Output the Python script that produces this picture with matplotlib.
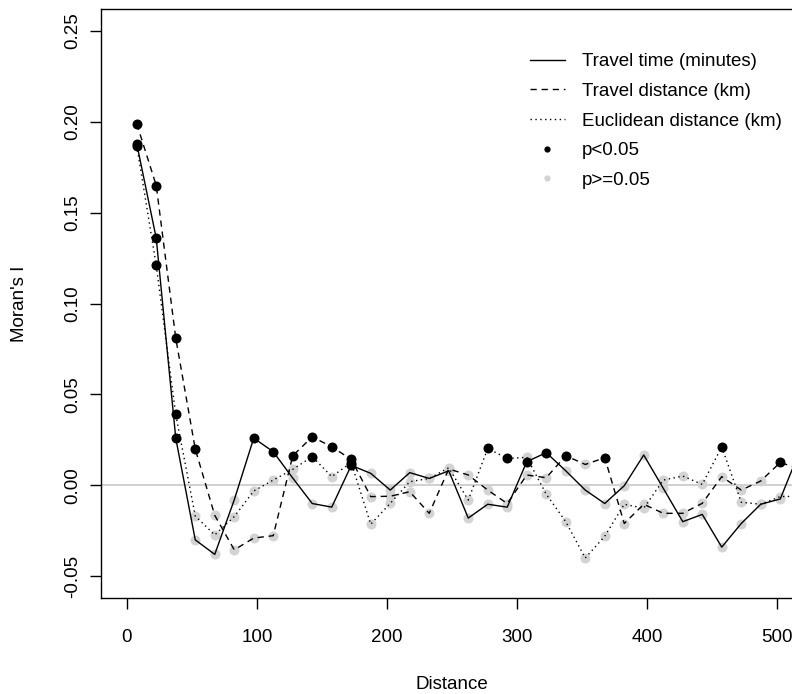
import numpy as np
import matplotlib
matplotlib.use("Agg")
import matplotlib.pyplot as plt
from matplotlib.lines import Line2D

plt.rcParams["font.family"] = ["Liberation Sans", "DejaVu Sans"]
plt.rcParams["axes.unicode_minus"] = False

# lag midpoints (distance classes of width 15)
dist = [7.5, 22.5, 37.5, 52.5, 67.5, 82.5, 97.5, 112.5, 127.5, 142.5,
        157.5, 172.5, 187.5, 202.5, 217.5, 232.5, 247.5, 262.5, 277.5, 292.5,
        307.5, 322.5, 337.5, 352.5, 367.5, 382.5, 397.5, 412.5, 427.5, 442.5,
        457.5, 472.5, 487.5, 502.5, 517.5]

time_i = [0.188, 0.136, 0.026, -0.030, -0.038, -0.008, 0.026, 0.0185, 0.004, -0.010,
          -0.012, 0.011, 0.0066, -0.0026, 0.007, 0.0038, 0.008, -0.018, -0.0104, -0.012,
          0.013, 0.018, 0.008, -0.0026, -0.010, -0.0002, 0.0167, -0.0016, -0.020, -0.016,
          -0.034, -0.021, -0.0104, -0.0075, 0.019]
time_sig = [1, 1, 1, 0, 0, 0, 1, 1, 0, 0,
            0, 1, 0, 0, 0, 0, 0, 0, 0, 0,
            1, 1, 0, 0, 0, 0, 0, 0, 0, 0,
            0, 0, 0, 0, 0]

road_i = [0.199, 0.165, 0.081, 0.020, -0.0165, -0.0355, -0.029, -0.0277, 0.0163, 0.0267,
          0.0212, 0.0143, -0.0062, -0.006, -0.0035, -0.0154, 0.009, 0.0057, -0.0026, -0.010,
          0.0057, 0.0042, 0.0163, 0.0115, 0.0152, -0.021, -0.0104, -0.0154, -0.0154, -0.0099,
          0.0048, -0.0026, 0.0024, 0.0126, 0.009]
road_sig = [1, 1, 1, 1, 0, 0, 0, 0, 1, 1,
            1, 1, 0, 0, 0, 0, 0, 0, 0, 0,
            0, 0, 1, 0, 1, 0, 0, 0, 0, 0,
            0, 0, 0, 1, 0]

eucl_i = [0.187, 0.121, 0.039, -0.0169, -0.0273, -0.0172, -0.0031, 0.0029, 0.0088, 0.0158,
          0.0048, 0.0125, -0.0214, -0.0099, 0.002, 0.0038, 0.0097, -0.0081, 0.0203, 0.0148,
          0.0154, -0.0049, -0.020, -0.040, -0.028, -0.0104, -0.0126, 0.0029, 0.0051, 0.0005,
          0.0212, -0.0093, -0.0104, -0.0062, -0.006]
eucl_sig = [1, 1, 1, 0, 0, 0, 0, 0, 0, 1,
            0, 1, 0, 0, 0, 0, 0, 0, 1, 1,
            0, 0, 0, 0, 0, 0, 0, 0, 0, 0,
            1, 0, 0, 0, 0]

series = [
    ("Travel time (minutes)", time_i, time_sig, "-"),
    ("Travel distance (km)", road_i, road_sig, (0, (4.5, 3.5))),
    ("Euclidean distance (km)", eucl_i, eucl_sig, (0, (1, 2.5))),
]

fig = plt.figure(figsize=(7.92, 6.94), dpi=100)
ax = fig.add_axes([101 / 792, 1 - 598 / 694, 702 / 792, (598 - 9.3) / 694])

ax.axhline(0, color="#c8c8c8", linewidth=1.2, zorder=1)

x = np.array(dist)
for label, vals, sig, ls in series:
    y = np.array(vals)
    s = np.array(sig, dtype=bool)
    ax.plot(x[~s], y[~s], "o", color="#d3d3d3", markersize=7.2, markeredgewidth=0, zorder=2)
    ax.plot(x[s], y[s], "o", color="black", markersize=7.2, markeredgewidth=0, zorder=4)
    ax.plot(x, y, color="black", linestyle=ls, linewidth=1.0, zorder=3)

ax.set_xlim(-20, 520)
ax.set_ylim(-0.062, 0.262)
ax.set_xticks([0, 100, 200, 300, 400, 500])
ax.set_yticks([-0.05, 0.00, 0.05, 0.10, 0.15, 0.20, 0.25])
ax.set_yticklabels([f"{v:.2f}" for v in [-0.05, 0.00, 0.05, 0.10, 0.15, 0.20, 0.25]],
                   rotation=90, va="center")
ax.tick_params(axis="both", direction="out", length=8, width=1, labelsize=13.5, color="black")
ax.tick_params(axis="x", pad=14)
ax.tick_params(axis="y", pad=6)
for sp in ax.spines.values():
    sp.set_linewidth(1.0)

ax.set_xlabel("Distance", fontsize=13.5)
ax.set_ylabel("Moran's I", fontsize=13.5)
ax.xaxis.set_label_coords(0.5, -(683 - 598 - 7) / 588.7)
ax.yaxis.set_label_coords(-(101 - 20.7 - 7.5) / 702, 0.5)

handles = [
    Line2D([], [], color="black", linestyle="-", linewidth=1.0),
    Line2D([], [], color="black", linestyle=(0, (4.5, 3.5)), linewidth=1.0),
    Line2D([], [], color="black", linestyle=(0, (1, 2.5)), linewidth=1.0),
    Line2D([], [], color="black", marker="o", linestyle="none", markersize=4.5, markeredgewidth=0),
    Line2D([], [], color="#d3d3d3", marker="o", linestyle="none", markersize=4.5, markeredgewidth=0),
]
labels = ["Travel time (minutes)", "Travel distance (km)", "Euclidean distance (km)",
          "p<0.05", "p>=0.05"]
ax.legend(handles, labels, loc="upper left", bbox_to_anchor=(530 / 792, 1 - 53 / 694),
          bbox_transform=fig.transFigure, frameon=False, fontsize=13.5,
          handlelength=1.85, handletextpad=0.9, labelspacing=0.67,
          borderpad=0, borderaxespad=0)

fig.savefig("out.png", dpi=100)
